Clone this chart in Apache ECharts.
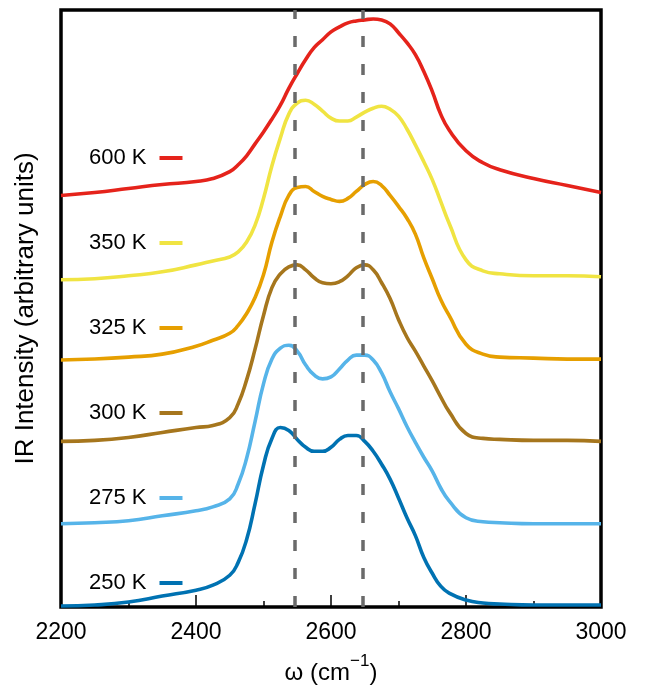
<!DOCTYPE html>
<html>
<head>
<meta charset="utf-8">
<script src="https://cdn.jsdelivr.net/npm/echarts@6/dist/echarts.min.js"></script>
<style>
html,body{margin:0;padding:0;background:#fff;}
#chart{width:645px;height:690px;}
</style>
</head>
<body>
<div id="chart"></div>
<script>
// Wavenumber grid (cm^-1)
const wavenumbers = [2200,2250,2300,2350,2400,2425,2450,2462.5,2475,2487.5,2500,2512.5,2525,2537.5,2550,2562.5,2575,2587.5,2600,2612.5,2625,2637.5,2650,2662.5,2675,2687.5,2700,2712.5,2725,2737.5,2750,2762.5,2775,2800,2825,2850,2900,2950,3000];

// Offset IR intensity curves (arbitrary units)
const k250 = [1,2,5,11,17,22,32,45,68,104,143,170,181,178,169,161,157,157,161,169,173,173,167,157,144,129,110,90,72,50,34,21,14,7,4,3,2,2,2];
const k275 = [84,85,87,92,97,101,109,124,150,187,225,250,261,264,258,244,234,230,232,240,249,254,254,249,236,217,200,182,166,151,137,120,107,90,86,85,84,84,84];
const k300 = [167,168,171,176,181,183,191,205,229,260,294,322,336,343,345,340,332,327,326,328,334,342,345,340,327,311,290,272,258,243,228,212,197,175,170,169,168,168,167];
const k325 = [249,250,252,255,263,269,276,284,296,312,335,368,394,415,423,424,419,414,411,409,412,419,426,429,425,415,404,392,376,352,331,310,294,265,255,252,251,250,250];
const k350 = [330,331,334,338,345,349,353,358,368,385,412,445,473,497,508,511,507,500,493,490,490,494,499,503,505,502,495,482,466,449,431,409,387,350,339,336,334,334,333];
const k600 = [415,418,422,426,429,432,439,446,455,467,479,492,506,523,538,552,564,572,580,585,589,591,592,593,592,588,579,569,557,540,520,497,481,460,448,441,432,425,418];

const seriesNames = ['600 K','350 K','325 K','300 K','275 K','250 K'];
const seriesValues = [k600, k350, k325, k300, k275, k250];
const seriesColors = ['#e5231b','#f0e442','#e69f00','#a6761d','#56b4e9','#0072b2'];

// Reference lines (cm^-1)
const guideLines = [2546, 2647];

const xTicks = {min: 2200, max: 3000, interval: 200};

const FONT = '"Liberation Sans", Arial, Helvetica, sans-serif';

const chart = echarts.init(document.getElementById('chart'), null, {renderer: 'canvas'});

const series = seriesNames.map((name, i) => ({
  name: name,
  type: 'line',
  data: wavenumbers.map((x, j) => [x, seriesValues[i][j]]),
  smooth: 0.5,
  symbol: 'none',
  color: seriesColors[i],
  lineStyle: {width: 3.6, color: seriesColors[i]},
  z: 2
}));

series.push({
  name: 'guides',
  type: 'line',
  data: [],
  z: 5,
  markLine: {
    silent: true,
    symbol: 'none',
    label: {show: false},
    lineStyle: {type: [11, 17], color: '#6a6a6a', width: 3.5},
    data: guideLines.map(v => ({xAxis: v}))
  }
});

chart.setOption({
  animation: false,
  backgroundColor: '#fff',
  grid: {
    left: 61, right: 44, top: 10, bottom: 78,
    show: true, borderColor: '#000', borderWidth: 3.5, backgroundColor: 'transparent'
  },
  legend: {
    orient: 'vertical',
    left: 84,
    top: 141,
    align: 'right',
    icon: 'rect',
    itemWidth: 23,
    itemHeight: 4,
    itemGap: 61,
    selectedMode: false,
    data: seriesNames,
    textStyle: {fontSize: 22, fontFamily: FONT, color: '#000', lineHeight: 24, padding: [0, 8, 0, 0]}
  },
  xAxis: {
    type: 'value',
    min: xTicks.min,
    max: xTicks.max,
    interval: xTicks.interval,
    axisLine: {show: false},
    axisTick: {show: true, inside: true, length: 12, lineStyle: {color: '#000', width: 1.5}},
    minorTick: {show: true, splitNumber: 2, length: 6, lineStyle: {color: '#000', width: 1.5}},
    splitLine: {show: false},
    minorSplitLine: {show: false},
    axisLabel: {fontSize: 23, color: '#000', fontFamily: FONT, margin: 14, formatter: v => String(v)},
    name: '{a|ω (cm}{s|−1}{a|)}',
    nameLocation: 'middle',
    nameGap: 46,
    nameTextStyle: {
      fontFamily: FONT,
      color: '#000',
      rich: {
        a: {fontSize: 24, fontFamily: FONT, color: '#000', lineHeight: 32, verticalAlign: 'bottom'},
        s: {fontSize: 17, fontFamily: FONT, color: '#000', lineHeight: 32, verticalAlign: 'top'}
      }
    }
  },
  yAxis: {
    type: 'value',
    min: 0,
    max: 602,
    axisLine: {show: false},
    axisTick: {show: false},
    axisLabel: {show: false},
    splitLine: {show: false},
    name: 'IR Intensity (arbitrary units)',
    nameLocation: 'middle',
    nameGap: 22,
    nameTextStyle: {fontSize: 26, fontFamily: FONT, color: '#000'}
  },
  series: series
});
</script>
</body>
</html>
